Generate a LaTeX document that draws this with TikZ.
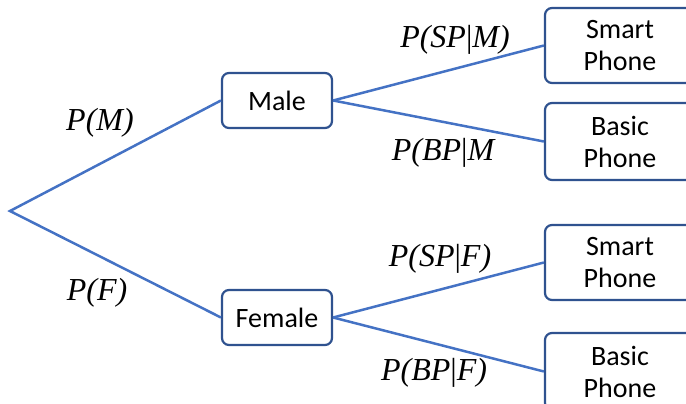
\documentclass[tikz,border=0pt]{standalone}
\usepackage{fontspec}
\setmainfont{Carlito}
\newfontfamily\lblfont{Liberation Serif}
\begin{document}
\begin{tikzpicture}[x=1pt,y=-1pt,
  box/.style={draw=boxblue, line width=2.2pt, rounded corners=7pt, fill=white, inner sep=0pt, font=\fontsize{28}{32}\selectfont, align=center},
  conn/.style={draw=lineblue, line width=2.5pt},
  lbl/.style={font=\lblfont\itshape\fontsize{32}{34}\selectfont, inner sep=0pt}]
\definecolor{lineblue}{RGB}{68,114,196}
\definecolor{boxblue}{RGB}{47,82,143}
\useasboundingbox (0,0) rectangle (686,404);
\coordinate (root) at (10,211);
\node[box, minimum width=110pt, minimum height=55pt] (male) at (277,100.5) {Male};
\node[box, minimum width=110pt, minimum height=55pt] (female) at (277,317.5) {Female};
\node[box, minimum width=150pt, minimum height=75pt] (sp1) at (620,45.5) {Smart\\Phone};
\node[box, minimum width=150pt, minimum height=77pt] (bp1) at (620,141.5) {Basic\\Phone};
\node[box, minimum width=150pt, minimum height=75pt] (sp2) at (620,262.5) {Smart\\Phone};
\node[box, minimum width=150pt, minimum height=77pt] (bp2) at (620,371.5) {Basic\\Phone};
\draw[conn] (male.west) -- (root) -- (female.west);
\draw[conn] (male.east) -- (sp1.west);
\draw[conn] (male.east) -- (bp1.west);
\draw[conn] (female.east) -- (sp2.west);
\draw[conn] (female.east) -- (bp2.west);
\node[lbl] (lm) at (100,123) {P(M)};
\node[lbl] (lf) at (97,293) {P(F)};
\node[lbl] (lspm) at (455,40) {P(SP{\upshape|}M)};
\node[lbl] (lbpm) at (443,153) {P(BP{\upshape|}M};
\node[lbl] (lspf) at (440,259) {P(SP{\upshape|}F)};
\node[lbl] (lbpf) at (434,373) {P(BP{\upshape|}F)};
\end{tikzpicture}
\end{document}
